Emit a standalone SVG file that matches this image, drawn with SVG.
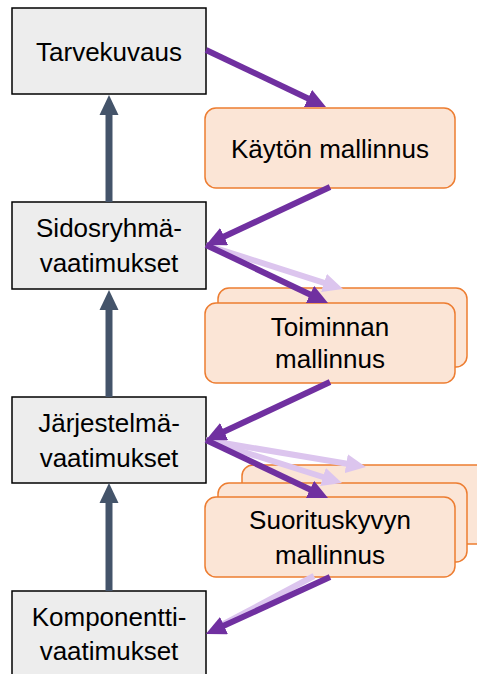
<svg xmlns="http://www.w3.org/2000/svg" width="477" height="674" viewBox="0 0 477 674">
  <style>
    .req { fill: #EDEDED; stroke: #000000; stroke-width: 1.5; }
    .model { fill: #FBE5D6; stroke: #ED7D31; stroke-width: 1.5; }
    text { font-family: "Liberation Sans", Arial, sans-serif; font-size: 26px; fill: #000000; text-anchor: middle; }
    .up { stroke: #44546A; stroke-width: 7; fill: none; marker-end: url(#headUp); }
    .flow { stroke: #7030A0; stroke-width: 6; fill: none; marker-end: url(#headFlow); }
    .ghost { stroke: #DCC5EE; stroke-width: 6; fill: none; marker-end: url(#headGhost); }
  </style>
  <defs>
    <marker id="headUp" markerUnits="userSpaceOnUse" viewBox="0 0 20 20" markerWidth="20" markerHeight="20" refX="10" refY="10" orient="auto">
      <path d="M0,0.5 L20,10 L0,19.5 z" fill="#44546A"/>
    </marker>
    <marker id="headFlow" markerUnits="userSpaceOnUse" viewBox="0 0 20 19" markerWidth="20" markerHeight="19" refX="10" refY="9.5" orient="auto">
      <path d="M0,0 L20,9.5 L0,19 z" fill="#7030A0"/>
    </marker>
    <marker id="headGhost" markerUnits="userSpaceOnUse" viewBox="0 0 20 19" markerWidth="20" markerHeight="19" refX="10" refY="9.5" orient="auto">
      <path d="M0,0 L20,9.5 L0,19 z" fill="#DCC5EE"/>
    </marker>
  </defs>

  <!-- requirement levels (left column) -->
  <g id="tarvekuvaus">
    <rect class="req" x="12" y="8" width="194" height="86"/>
    <text x="109" y="61">Tarvekuvaus</text>
  </g>
  <g id="sidosryhmavaatimukset">
    <rect class="req" x="12" y="202" width="194" height="87"/>
    <text x="109" y="237">Sidosryhmä-</text>
    <text x="109" y="272">vaatimukset</text>
  </g>
  <g id="jarjestelmavaatimukset">
    <rect class="req" x="12" y="397" width="194" height="86"/>
    <text x="109" y="432">Järjestelmä-</text>
    <text x="109" y="467">vaatimukset</text>
  </g>
  <g id="komponenttivaatimukset">
    <rect class="req" x="12" y="591" width="194" height="87"/>
    <text x="109" y="626">Komponentti-</text>
    <text x="109" y="660">vaatimukset</text>
  </g>

  <!-- modelling activities (right column) -->
  <g id="kayton-mallinnus">
    <rect class="model" x="205" y="108" width="250" height="80" rx="11"/>
    <text x="330" y="158">Käytön mallinnus</text>
  </g>
  <g id="toiminnan-mallinnus">
    <rect class="model" x="218" y="288" width="249" height="79" rx="11"/>
    <rect class="model" x="205" y="303" width="250" height="80" rx="11"/>
    <text x="330" y="336">Toiminnan</text>
    <text x="330" y="368">mallinnus</text>
  </g>
  <g id="suorituskyvyn-mallinnus">
    <rect class="model" x="242" y="465" width="260" height="79" rx="11"/>
    <rect class="model" x="218" y="483" width="249" height="79" rx="11"/>
    <rect class="model" x="205" y="497" width="250" height="80" rx="11"/>
    <text x="330" y="529">Suorituskyvyn</text>
    <text x="330" y="564">mallinnus</text>
  </g>

  <!-- connectors -->
  <g id="connectors">
    <line class="up" x1="109" y1="202" x2="109" y2="105"/>
    <line class="up" x1="109" y1="397" x2="109" y2="300"/>
    <line class="up" x1="109" y1="591" x2="109" y2="493"/>

    <line class="ghost" x1="206" y1="245" x2="333.5" y2="285.9"/>
    <line class="ghost" x1="206" y1="440" x2="356.1" y2="465.3"/>
    <line class="ghost" x1="206" y1="440" x2="332.5" y2="480"/>
    <line class="ghost" x1="314" y1="576" x2="218" y2="627" style="marker-end:none"/>

    <line class="flow" x1="206" y1="50" x2="317" y2="102.7"/>
    <line class="flow" x1="330" y1="187" x2="215.1" y2="240.8"/>
    <line class="flow" x1="206" y1="245" x2="319" y2="298.7"/>
    <line class="flow" x1="330" y1="382" x2="215.1" y2="435.8"/>
    <line class="flow" x1="206" y1="440" x2="319" y2="493.7"/>
    <line class="flow" x1="330" y1="577" x2="214.9" y2="629.8"/>
  </g>
</svg>
